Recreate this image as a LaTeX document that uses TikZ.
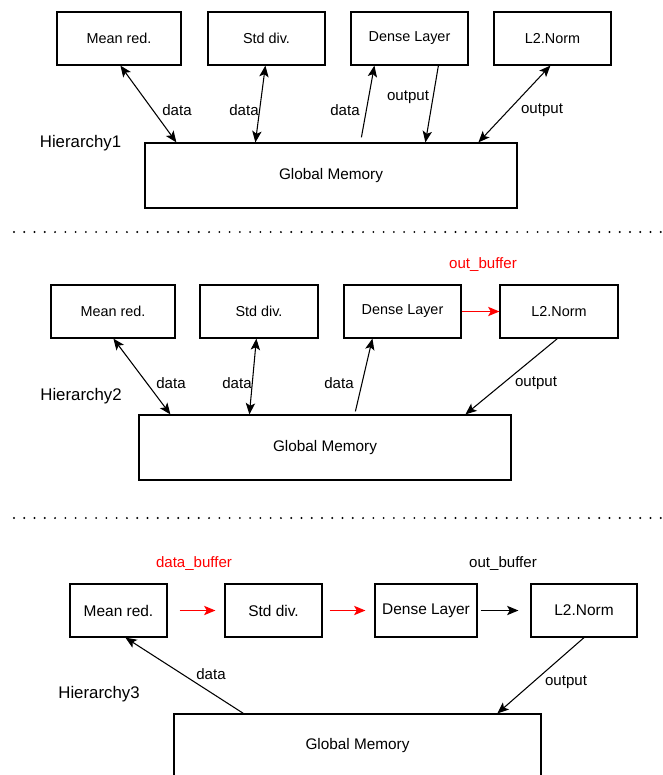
\documentclass[tikz,border=0pt]{standalone}
\usepackage{fontspec}
\setmainfont{Liberation Sans}
\usetikzlibrary{calc,arrows.meta}
\begin{document}
\begin{tikzpicture}[x=0.75pt,y=-0.75pt,
  box/.style={draw,line width=0.9pt,inner sep=0pt,minimum height=39.75pt,font=\fontsize{10.8}{12}\selectfont},
  boxl/.style={box,font=\fontsize{11.6}{13}\selectfont},
  mem/.style={draw,line width=0.9pt,inner sep=0pt,minimum width=279pt,minimum height=48.75pt,font=\fontsize{11.5}{13}\selectfont},
  lbl/.style={inner sep=0pt,font=\fontsize{11.3}{13}\selectfont},
  hier/.style={inner sep=0pt,font=\fontsize{12.6}{14}\selectfont},
  conn/.style={line width=0.8pt,-{Stealth[length=8.5pt,width=7pt,inset=2pt]}},
  bconn/.style={line width=0.8pt,{Stealth[length=8.5pt,width=7pt,inset=2pt]}-{Stealth[length=8.5pt,width=7pt,inset=2pt]}},
  rconn/.style={conn,red},
  sep/.style={line width=1.6pt,line cap=round,dash pattern=on 0pt off 7.7pt}]
\useasboundingbox (0,0) rectangle (662,775);
\clip (0,0) rectangle (662,775);
\fill[white] (0,0) rectangle (662,775);

% ---------------- Hierarchy 1
\node[box,minimum width=93pt] (mr1) at (119,38.5) {Mean red.};
\node[box,minimum width=87.75pt] (sd1) at (266.5,38.5) {Std div.};
\node[box,minimum width=87.75pt] (dl1) at (409.5,38.5) {Dense Layer};
\node[box,minimum width=87.75pt] (l21) at (552.5,38.5) {L2.Norm};
\node[mem] (gm1) at (331,175.5) {Global Memory};
\node[hier] (h1) at (80.5,143) {Hierarchy1};

\draw[bconn] ($(mr1.south west)+(64,0)$) -- ($(gm1.north west)+(32,0)$);
\draw[bconn] ($(sd1.south west)+(58,0)$) -- ($(gm1.north west)+(111,0)$);
\draw[conn] ($(gm1.north west)+(217,-5)$) -- ($(dl1.south west)+(24,0)$);
\draw[conn] ($(dl1.south west)+(88,0)$) -- ($(gm1.north west)+(281,0)$);
\draw[bconn] ($(l21.south west)+(57,0)$) -- ($(gm1.north west)+(334,0)$);

\node[lbl] (t11) at (177,110) {data};
\node[lbl] (t12) at (244,110) {data};
\node[lbl] (t13) at (345,110) {data};
\node[lbl] (t14) at (408,97) {output};
\node[lbl] (t15) at (542,110) {output};

\coordinate (s1a) at (14,232);
\coordinate (s1b) at (662,232);
\draw[sep] (s1a) -- (s1b);

% ---------------- Hierarchy 2
\node[box,minimum width=93pt] (mr2) at (113,311.5) {Mean red.};
\node[box,minimum width=88.5pt] (sd2) at (259,311.5) {Std div.};
\node[box,minimum width=87.75pt] (dl2) at (402.5,311.5) {Dense Layer};
\node[box,minimum width=88.5pt] (l22) at (559,311.5) {L2.Norm};
\node[mem] (gm2) at (325,447.5) {Global Memory};
\node[hier] (h2) at (81,396) {Hierarchy2};

\draw[rconn] (dl2.east) -- (l22.west);
\node[lbl,text=red] (ob2) at (483,265) {out\_buffer};

\draw[bconn] ($(mr2.south west)+(63,0)$) -- ($(gm2.north west)+(32,0)$);
\draw[bconn] ($(sd2.south west)+(57,0)$) -- ($(gm2.north west)+(111,0)$);
\draw[conn] ($(gm2.north west)+(217,-3)$) -- ($(dl2.south west)+(29,0)$);
\draw[conn] ($(l22.south west)+(58,0)$) -- ($(gm2.north west)+(327,0)$);

\node[lbl] (t21) at (171,383) {data};
\node[lbl] (t22) at (237,383) {data};
\node[lbl] (t23) at (339,383) {data};
\node[lbl] (t24) at (536,383) {output};

\coordinate (s2a) at (14,518);
\coordinate (s2b) at (662,518);
\draw[sep] (s2a) -- (s2b);

% ---------------- Hierarchy 3
\node[boxl,minimum width=72.75pt] (mr3) at (118.5,610.5) {Mean red.};
\node[boxl,minimum width=72.75pt] (sd3) at (273.5,610.5) {Std div.};
\node[boxl,minimum width=76.5pt] (dl3) at (426,610.5) {Dense Layer};
\node[boxl,minimum width=79.5pt] (l23) at (584,610.5) {L2.Norm};
\node[mem,minimum width=275.25pt,minimum height=60pt] (gm3) at (357.5,754) {};
\node[inner sep=0pt,font=\fontsize{11.5}{13}\selectfont] (gm3t) at (357.5,746) {Global Memory};
\node[hier] (h3) at (99,694) {Hierarchy3};

\draw[rconn,shorten <=9pt,shorten >=6.75pt] (mr3.east) -- (sd3.west);
\draw[rconn,shorten <=5.25pt,shorten >=6.75pt] (sd3.east) -- (dl3.west);
\draw[conn,shorten <=2.25pt,shorten >=9pt] (dl3.east) -- (l23.west);
\node[lbl,text=red] (db3) at (194,564) {data\_buffer};
\node[lbl] (ob3) at (503,564) {out\_buffer};

\draw[conn] ($(gm3.north west)+(70,0)$) -- ($(mr3.south west)+(56,0)$);
\draw[conn] (l23.south) -- ($(gm3.north west)+(324,0)$);
\node[lbl] (t31) at (211,674) {data};
\node[lbl] (t32) at (566,682) {output};
\end{tikzpicture}
\end{document}
